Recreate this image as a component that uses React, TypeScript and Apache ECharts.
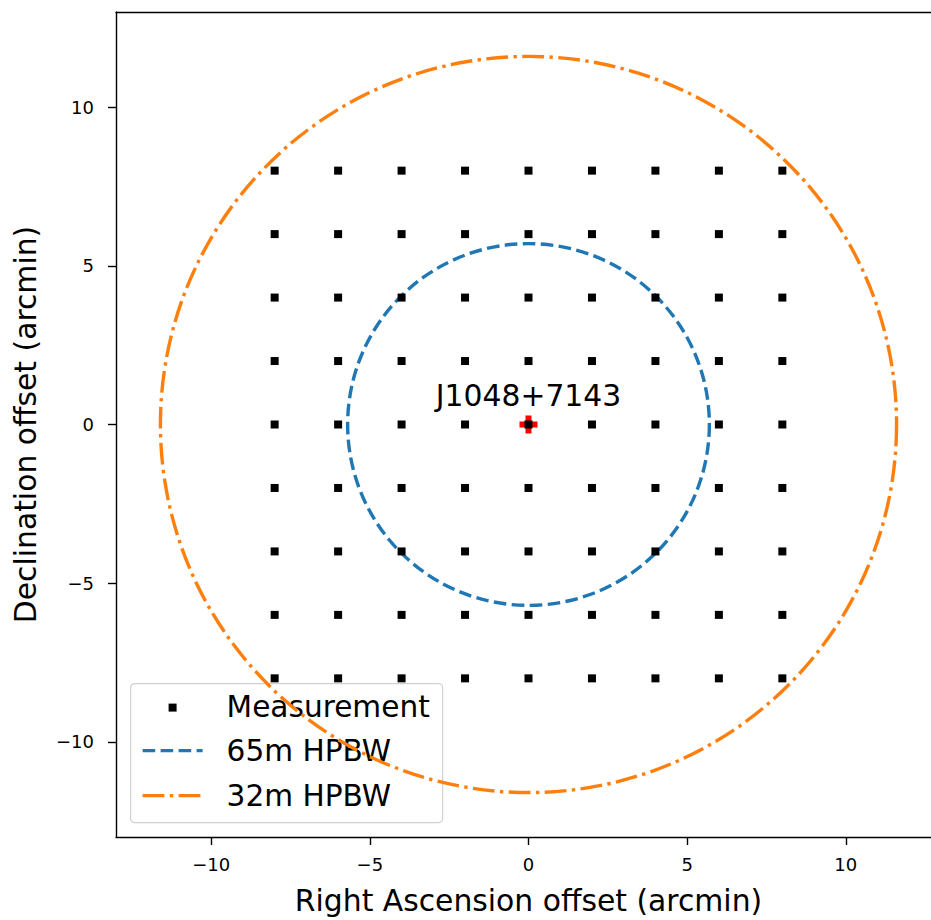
import React, { useEffect, useRef } from "react";
import * as echarts from "echarts";

// Pointing offsets of the measurement grid (arcmin)
const raOffsets = [-8, -6, -4, -2, 0, 2, 4, 6, 8];
const decOffsets = [-8, -6, -4, -2, 0, 2, 4, 6, 8];
// Half-power beam widths drawn as circles (radius in arcmin)
const beam65Radius = 5.7;
const beam32Radius = 11.6;
const sourceName = "J1048+7143";
const sourcePos = [0, 0];
const tickValues = [-10, -5, 0, 5, 10];

const BLUE = "#1f77b4";
const ORANGE = "#ff7f0e";
const FONT = "DejaVu Sans";
const LW = 3.4;
const DASHED = [12.6, 5.4];
const DASHDOT = [21.8, 5.4, 3.4, 5.4];

const fmt = (v: number) => (v < 0 ? "\u2212" + Math.abs(v) : String(v));

function circleSeries(radius: number, color: string, dash: number[]) {
  return {
    type: "custom",
    silent: true,
    z: 3,
    clip: true,
    data: [[0, 0, radius]],
    renderItem: (_params: any, api: any) => {
      const c = api.coord([api.value(0), api.value(1)]);
      const e = api.coord([api.value(0) + api.value(2), api.value(1)]);
      const r = Math.abs(e[0] - c[0]);
      return {
        type: "circle",
        shape: { cx: c[0], cy: c[1], r },
        style: { fill: "none", stroke: color, lineWidth: LW, lineDash: dash },
      };
    },
  };
}

export default function App() {
  const ref = useRef<HTMLDivElement>(null);
  useEffect(() => {
    if (!ref.current) return;
    const chart = echarts.init(ref.current, null, { renderer: "svg" });
    const points: number[][] = [];
    for (const d of decOffsets) for (const r of raOffsets) points.push([r, d]);

    const spine = { show: true, onZero: false, lineStyle: { color: "#000", width: 1.4 } };

    const mainAxis = (name: string, gap: number, pos: string, margin: number) => ({
      type: "value",
      min: -13,
      max: 13,
      position: pos,
      name,
      nameGap: gap,
      nameLocation: "middle",
      nameTextStyle: { fontFamily: FONT, fontSize: 29.8, color: "#000" },
      splitLine: { show: false },
      axisLine: spine,
      axisTick: {
        show: true,
        customValues: tickValues,
        length: 8,
        lineStyle: { color: "#000", width: 1.4 },
      },
      axisLabel: {
        show: true,
        customValues: tickValues,
        formatter: fmt,
        fontFamily: FONT,
        fontSize: 18,
        color: "#000",
        margin,
      },
    });

    const plainSpine = (pos: string) => ({
      type: "value",
      min: -13,
      max: 13,
      position: pos,
      splitLine: { show: false },
      axisLine: spine,
      axisTick: { show: false },
      axisLabel: { show: false },
    });

    const legendText = (y: number, text: string) => ({
      type: "text",
      x: 96,
      y,
      style: { text, font: `29.6px '${FONT}'`, fill: "#000", verticalAlign: "middle" },
    });

    chart.setOption({
      animation: false,
      backgroundColor: "#fff",
      grid: { left: 116, top: 12, width: 825, height: 825 },
      xAxis: [
        mainAxis("Right Ascension offset (arcmin)", 48, "bottom", 18),
        plainSpine("top"),
      ],
      yAxis: [
        mainAxis("Declination offset (arcmin)", 76, "left", 22),
        plainSpine("right"),
      ],
      series: [
        circleSeries(beam65Radius, BLUE, DASHED),
        circleSeries(beam32Radius, ORANGE, DASHDOT),
        {
          type: "scatter",
          data: [sourcePos],
          symbol: "path://M6,0H12V6H18V12H12V18H6V12H0V6H6Z",
          symbolSize: 18,
          itemStyle: { color: "#ff0000", opacity: 1 },
          z: 4,
          silent: true,
        },
        {
          type: "scatter",
          data: points,
          symbol: "rect",
          symbolSize: 8,
          itemStyle: { color: "#000", opacity: 1 },
          z: 5,
          silent: true,
        },
        {
          type: "scatter",
          data: [[sourcePos[0], sourcePos[1] + 0.9]],
          symbolSize: 0,
          silent: true,
          z: 6,
          itemStyle: { opacity: 1 },
          label: {
            show: true,
            position: "inside",
            formatter: sourceName,
            fontFamily: FONT,
            fontSize: 29.8,
            color: "#000",
            opacity: 1,
          },
        },
      ],
      graphic: [
        {
          type: "group",
          left: 130,
          top: 683,
          z: 100,
          children: [
            {
              type: "rect",
              shape: { x: 0, y: 0, width: 312, height: 139, r: 4 },
              style: { fill: "rgba(255,255,255,0.8)", stroke: "#d0d0d0", lineWidth: 1.2 },
            },
            { type: "rect", shape: { x: 38, y: 20, width: 8, height: 8 }, style: { fill: "#000" } },
            {
              type: "line",
              shape: { x1: 12, y1: 67, x2: 72, y2: 67 },
              style: { stroke: BLUE, lineWidth: LW, lineDash: DASHED },
            },
            {
              type: "line",
              shape: { x1: 12, y1: 112, x2: 72, y2: 112 },
              style: { stroke: ORANGE, lineWidth: LW, lineDash: DASHDOT },
            },
            legendText(23, "Measurement"),
            legendText(67, "65m HPBW"),
            legendText(112, "32m HPBW"),
          ],
        },
      ],
    });
    return () => chart.dispose();
  }, []);
  return (
    <div style={{ position: "fixed", left: 0, top: 0, width: 931, height: 920, overflow: "hidden" }}>
      <div ref={ref} style={{ width: 960, height: 920 }} />
    </div>
  );
}
